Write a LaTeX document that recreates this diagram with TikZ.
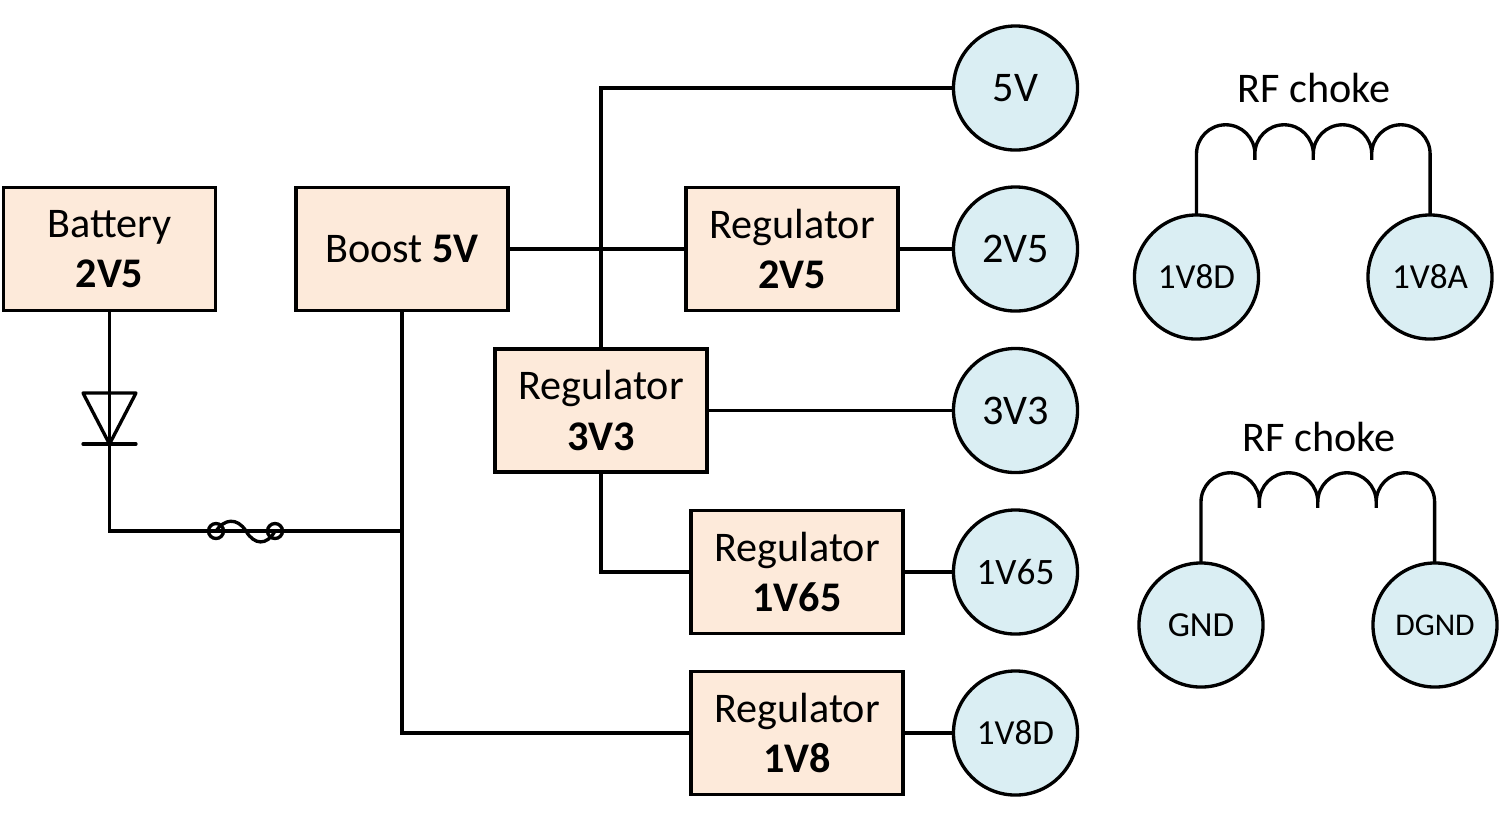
\documentclass[tikz,border=0pt]{standalone}
\usepackage{fontspec}
\setmainfont{Carlito}
\definecolor{boxfill}{HTML}{FDEADA}
\definecolor{railfill}{HTML}{DAEEF3}
\tikzset{
  wire/.style={black,line width=0.95pt},
  block/.style={draw=black,line width=0.95pt,fill=boxfill,minimum width=2.12cm,minimum height=1.23cm,
    inner sep=0pt,outer sep=0pt,align=center,font=\fontsize{12}{14.4}\selectfont},
  rail/.style={circle,draw=black,line width=0.95pt,fill=railfill,minimum size=1.24cm,
    inner sep=0pt,outer sep=0pt,font=\fontsize{12}{14}\selectfont},
  smallrail/.style={rail,font=\fontsize{10}{12}\selectfont},
  label/.style={inner sep=0pt,font=\fontsize{12}{14}\selectfont}
}
\begin{document}
\begin{tikzpicture}[x=0.01cm,y=-0.01cm]
\useasboundingbox (0,0) rectangle (1500,823);

% power blocks
\node[block](battery) at (109.5,249) {Battery\\\textbf{2V5}};
\node[block](boost) at (402,249) {Boost \textbf{5V}};
\node[block](reg25) at (792,249) {Regulator\\\textbf{2V5}};
\node[block](reg33) at (601,410.5) {Regulator\\\textbf{3V3}};
\node[block](reg165) at (797,572) {Regulator\\\textbf{1V65}};
\node[block](reg18) at (797,733) {Regulator\\\textbf{1V8}};

% supply rails
\node[rail](v5) at (1015.5,88) {5V};
\node[rail](v25) at (1015.5,249) {2V5};
\node[rail](v33) at (1015.5,410.5) {3V3};
\node[smallrail,font=\fontsize{10.6}{12}\selectfont](v165) at (1015.5,572) {1V65};
\node[smallrail](v18d) at (1015.5,733) {1V8D};
\node[smallrail](d18) at (1196.5,277) {1V8D};
\node[smallrail](a18) at (1430,277) {1V8A};
\node[smallrail](gnd) at (1201,625) {GND};
\node[smallrail,font=\fontsize{9}{11}\selectfont](dgnd) at (1435,625) {DGND};

\node[label](choke1) at (1314,88) {RF choke};
\node[label](choke2) at (1319,437) {RF choke};

% wiring
\draw[wire] (boost) -- (reg25);
\draw[wire] (reg25) -- (v25);
\draw[wire] (reg33) -- (v33);
\draw[wire] (reg165) -- (v165);
\draw[wire] (reg18) -- (v18d);
\draw[wire] (v5.west) -| (reg33.north);
\draw[wire] (reg33.south) |- (reg165.west);
\draw[wire] (boost.south) |- (reg18.west);

% diode and fuse
\coordinate (corner) at (109.5,531);
\coordinate (tap) at (402,531);
\node[circle,draw=black,line width=0.95pt,inner sep=0pt,minimum size=0.15cm](fuseL) at (216,531) {};
\node[circle,draw=black,line width=0.95pt,inner sep=0pt,minimum size=0.15cm](fuseR) at (275,531) {};
\draw[wire] (battery.south) -- (corner) -- (fuseL.center) -- (fuseR.center) -- (tap);
\draw[wire,line join=round] (83,393) -- (136,393) -- (109.5,444) -- cycle;
\draw[wire,line cap=round] (83,444) -- (136,444);
\draw[wire] (fuseL.center) .. controls (224,519) and (237,517) .. (246,531)
  .. controls (254,545) and (267,546) .. (fuseR.center);

% chokes
\foreach\foot/\drop in {d18/61,gnd/61}{
  \draw[wire] (\foot.north) -- ++(0,-\drop)
    arc[start angle=180,end angle=360,radius=29.2] -- ++(0,6) -- ++(0,-6)
    arc[start angle=180,end angle=360,radius=29.2] -- ++(0,6) -- ++(0,-6)
    arc[start angle=180,end angle=360,radius=29.2] -- ++(0,6) -- ++(0,-6)
    arc[start angle=180,end angle=360,radius=29.2] -- ++(0,\drop);
}
\end{tikzpicture}
\end{document}
